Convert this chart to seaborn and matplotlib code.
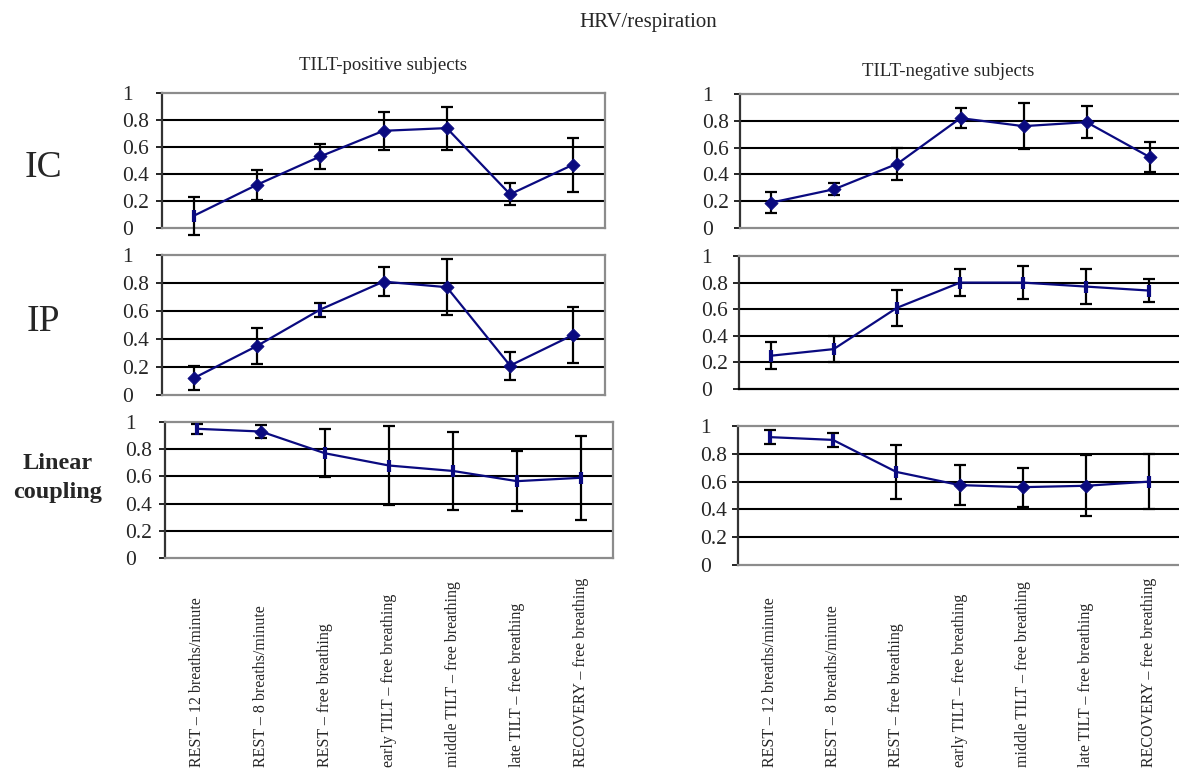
import numpy as np
import matplotlib
matplotlib.use("Agg")
import matplotlib.pyplot as plt
import matplotlib.transforms as mtransforms
import seaborn as sns

# ---------------------------------------------------------------------------
# Data
# ---------------------------------------------------------------------------
conditions = [
    "REST – 12 breaths/minute",
    "REST – 8 breaths/minute",
    "REST – free breathing",
    "early TILT – free breathing",
    "middle TILT – free breathing",
    "late TILT – free breathing",
    "RECOVERY – free breathing",
]

ic_pos_mean = [0.09, 0.32, 0.53, 0.72, 0.74, 0.25, 0.47]
ic_pos_err = [0.14, 0.11, 0.09, 0.14, 0.16, 0.08, 0.20]
ic_neg_mean = [0.19, 0.29, 0.48, 0.82, 0.76, 0.79, 0.53]
ic_neg_err = [0.08, 0.045, 0.12, 0.075, 0.17, 0.12, 0.11]

ip_pos_mean = [0.12, 0.35, 0.61, 0.81, 0.77, 0.21, 0.43]
ip_pos_err = [0.085, 0.13, 0.05, 0.105, 0.20, 0.10, 0.20]
ip_neg_mean = [0.25, 0.30, 0.61, 0.80, 0.80, 0.77, 0.74]
ip_neg_err = [0.10, 0.10, 0.135, 0.10, 0.125, 0.13, 0.085]

lc_pos_mean = [0.95, 0.93, 0.77, 0.68, 0.64, 0.565, 0.59]
lc_pos_err = [0.035, 0.045, 0.175, 0.29, 0.285, 0.22, 0.31]
lc_neg_mean = [0.92, 0.90, 0.67, 0.575, 0.56, 0.57, 0.60]
lc_neg_err = [0.05, 0.05, 0.195, 0.145, 0.14, 0.22, 0.20]

y_ticks = [0, 0.2, 0.4, 0.6, 0.8, 1]
y_ticklabels = ["0", "0.2", "0.4", "0.6", "0.8", "1"]

# ---------------------------------------------------------------------------
# Style
# ---------------------------------------------------------------------------
sns.set_style("white")
plt.rcParams["font.family"] = ["Liberation Serif", "DejaVu Serif"]

NAVY = "#0a0a80"
FRAME = "#8c8c8c"
W, H = 1179, 773

fig = plt.figure(figsize=(W / 100, H / 100), dpi=100)


def box(l, t, r, b):
    return [l / W, 1 - b / H, (r - l) / W, (b - t) / H]


panels = [
    # rect in pixels, mean, err, markers, label pad (pt)
    ((162, 93, 605, 228), ic_pos_mean, ic_pos_err, ["|", "D", "D", "D", "D", "D", "D"], 25),
    ((740, 94, 1181, 228), ic_neg_mean, ic_neg_err, ["D"] * 7, 23),
    ((162, 255, 605, 395), ip_pos_mean, ip_pos_err, ["D", "D", "|", "D", "D", "D", "D"], 25),
    ((739, 256, 1181, 389), ip_neg_mean, ip_neg_err, ["|"] * 7, 23),
    ((165, 422, 613, 558), lc_pos_mean, lc_pos_err, ["|", "D", "|", "|", "|", "|", "|"], 25),
    ((738, 426, 1181, 565), lc_neg_mean, lc_neg_err, ["|", "|", "|", "D", "D", "D", "|"], 23),
]

x = np.arange(len(conditions))
axes = []
for rect, mean, err, markers, pad in panels:
    ax = fig.add_axes(box(*rect))
    mean = np.asarray(mean)

    ax.errorbar(x, mean, yerr=err, fmt="none", ecolor="black", elinewidth=1.6,
                capsize=4, capthick=1.6, zorder=3, clip_on=False)
    sns.lineplot(x=x, y=mean, color=NAVY, linewidth=1.6, ax=ax, zorder=4)
    markers = np.asarray(markers)
    for m in np.unique(markers):
        sel = markers == m
        if m == "D":
            sns.scatterplot(x=x[sel], y=mean[sel], marker="D", s=45, color=NAVY,
                            edgecolor=NAVY, ax=ax, zorder=5)
        else:
            sns.scatterplot(x=x[sel], y=mean[sel], marker="|", s=70, color=NAVY,
                            linewidth=3, ax=ax, zorder=5)

    ax.set_xlim(-0.5, len(conditions) - 0.5)
    ax.set_ylim(0, 1)
    ax.set_xticks([])
    ax.set_yticks(y_ticks)
    ax.set_yticklabels(y_ticklabels, fontsize=15.5)
    for lab in ax.get_yticklabels():
        lab.set_horizontalalignment("left")
    ax.tick_params(axis="y", which="major", length=4, width=1.2, color="black",
                   pad=pad, left=True)
    ax.yaxis.grid(True, color="black", linewidth=1.5)
    for gl, t in zip(ax.yaxis.get_gridlines(), y_ticks):
        gl.set_visible(0 < t < 1)
    ax.set_axisbelow(True)
    for side, sp in ax.spines.items():
        sp.set_color(FRAME)
        sp.set_linewidth(1.6)
    ax.spines["left"].set_color("#333333")
    ax.set_xlabel("")
    ax.set_ylabel("")
    axes.append(ax)

# the IP / TILT-negative panel has a black base line
axes[3].spines["bottom"].set_color("black")

# condition labels under the bottom row, bottom-aligned
for ax in axes[4:]:
    trans = mtransforms.blended_transform_factory(ax.transData, fig.transFigure)
    for i, name in enumerate(conditions):
        ax.text(i, 6 / H, name, transform=trans, rotation=90, ha="center",
                va="bottom", fontsize=11.5)

# titles and row labels
fig.text(648 / W, 1 - 22 / H, "HRV/respiration", ha="center", va="center", fontsize=15)
fig.text(383 / W, 1 - 66 / H, "TILT-positive subjects", ha="center", va="center", fontsize=13.5)
fig.text(948 / W, 1 - 72 / H, "TILT-negative subjects", ha="center", va="center", fontsize=13.5)
fig.text(43 / W, 1 - 168 / H, "IC", ha="center", va="center", fontsize=27)
fig.text(43 / W, 1 - 322 / H, "IP", ha="center", va="center", fontsize=27)
fig.text(58 / W, 1 - 478 / H, "Linear\ncoupling", ha="center", va="center",
         fontsize=17.5, fontweight="bold", linespacing=1.45)

fig.savefig("out.png", dpi=100)
